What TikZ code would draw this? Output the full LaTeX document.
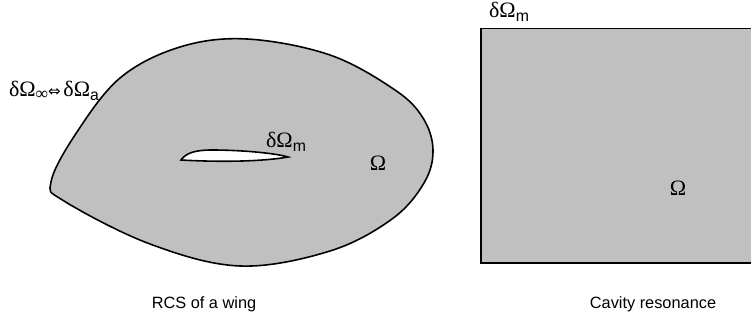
\documentclass[tikz,border=0pt]{standalone}
\usepackage{fontspec}
\setmainfont{Liberation Sans}
\setsansfont{Liberation Sans}
\newfontfamily\grkfont{Liberation Serif}
\newfontfamily\symfont{DejaVu Sans}
\usepackage{tikz}
\usetikzlibrary{positioning}
\definecolor{domaingray}{HTML}{C0C0C0}
\newcommand{\grk}[1]{{\fontsize{12.5}{14}\grkfont #1}}
\newcommand{\subl}[1]{\raisebox{-0.45ex}{\fontsize{9}{10}\selectfont #1}}
\tikzset{
  bnd/.style={draw=black,line width=0.9pt,fill=domaingray},
  lbl/.style={inner sep=0pt,font=\fontsize{9.3}{11}\selectfont}
}

\begin{document}
\begin{tikzpicture}[x=0.02cm,y=-0.02cm]
\useasboundingbox (0,0) rectangle (751,324);
\clip (0,0) rectangle (751,324);
\draw[bnd] plot[smooth cycle,tension=0.6] coordinates {
  (51,182) (75,135) (120,78) (180,47) (247,39) (330,55) (395,90) (423,118)
  (433,150) (424,183) (392,219) (330,251) (240,266) (150,244) (64,201)};
\draw[line width=0.9pt,fill=white] (181,160) .. controls (186,153) and (195,150) .. (212,150)
  .. controls (240,150) and (275,153) .. (288,157)
  .. controls (260,162) and (215,162) .. (181,160) -- cycle;
\draw[line width=1.1pt,fill=domaingray] (481,28.5) rectangle (760,262.7);
\node[lbl] (farfield) at (54,91) {\grk{δΩ}\raisebox{-0.3ex}{\fontsize{10}{11}\grkfont ∞}{\symfont\fontsize{8.5}{10}\selectfont ⇔}\,\grk{δΩ}\subl{a}};
\node[lbl] (wingbnd) at (286,142) {\grk{δΩ}\subl{m}};
\node[lbl] (wingdom) at (378,163) {\grk{Ω}};
\node[lbl] (cavbnd) at (509,12) {\grk{δΩ}\subl{m}};
\node[lbl] (cavdom) at (678,188) {\grk{Ω}};
\node[lbl] (wingcap) at (204,304) {RCS of a wing};
\node[lbl] (cavcap) at (653,304) {Cavity resonance};
\end{tikzpicture}
\end{document}
